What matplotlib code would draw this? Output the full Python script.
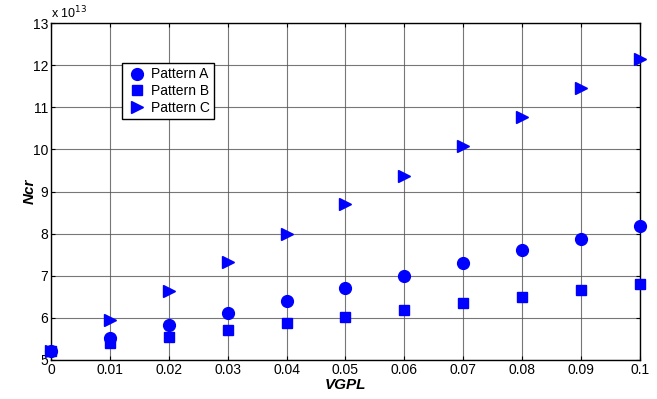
import matplotlib; matplotlib.use("Agg")
import matplotlib.pyplot as plt

plt.rcParams["font.family"] = ["Liberation Sans", "DejaVu Sans"]

vgpl = [0, 0.01, 0.02, 0.03, 0.04, 0.05, 0.06, 0.07, 0.08, 0.09, 0.1]
# Ncr in units of 1e13
ncr_a = [5.22, 5.53, 5.82, 6.12, 6.41, 6.71, 7.00, 7.30, 7.60, 7.88, 8.18]
ncr_b = [5.22, 5.40, 5.55, 5.70, 5.87, 6.03, 6.18, 6.34, 6.50, 6.65, 6.80]
ncr_c = [5.22, 5.95, 6.63, 7.32, 8.00, 8.70, 9.38, 10.08, 10.76, 11.46, 12.15]
xticks = vgpl
xticklabels = ["0", "0.01", "0.02", "0.03", "0.04", "0.05", "0.06", "0.07", "0.08", "0.09", "0.1"]
yticks = [5, 6, 7, 8, 9, 10, 11, 12, 13]

fig = plt.figure(figsize=(6.57, 3.99), dpi=100)
ax = fig.add_axes([0.0776, 0.098, 0.8964, 0.844])

ax.plot(vgpl, ncr_a, "o", color="blue", ms=8.5, label="Pattern A", clip_on=False, zorder=3)
ax.plot(vgpl, ncr_b, "s", color="blue", ms=6.5, label="Pattern B", clip_on=False, zorder=3)
ax.plot(vgpl, ncr_c, ">", color="blue", ms=8.5, label="Pattern C", clip_on=False, zorder=3)

ax.set_xlim(0, 0.1)
ax.set_ylim(5, 13)
ax.set_xticks(xticks)
ax.set_xticklabels(xticklabels)
ax.set_yticks(yticks)
ax.tick_params(direction="in", top=True, right=True, labelsize=10, length=3, pad=2)
ax.grid(True, color="#555555", lw=0.8, alpha=0.8)
ax.set_axisbelow(True)
for s in ax.spines.values():
    s.set_linewidth(1.0)

ax.set_xlabel("VGPL", fontsize=11, fontweight="bold", fontstyle="italic", labelpad=1)
ax.set_ylabel("Ncr", fontsize=11, fontweight="bold", fontstyle="italic", labelpad=-3)
ax.text(0.0, 1.005, "x 10$^{13}$", transform=ax.transAxes, fontsize=9, va="bottom", ha="left")

leg = ax.legend(loc="upper left", bbox_to_anchor=(0.12, 0.881), fontsize=10,
                frameon=True, fancybox=False, edgecolor="black", framealpha=1,
                borderpad=0.3, labelspacing=0.2, handletextpad=0.2, handlelength=1.6,
                borderaxespad=0)
leg.get_frame().set_linewidth(1.0)

fig.savefig("out.png", dpi=100)
